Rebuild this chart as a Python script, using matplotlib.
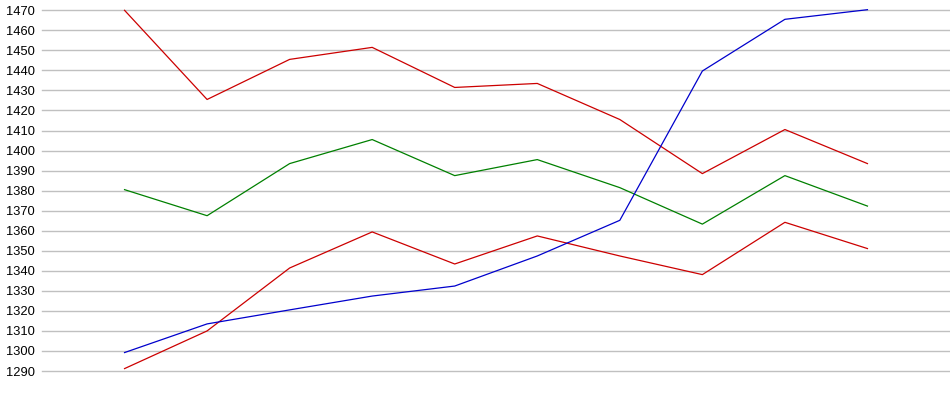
import matplotlib
matplotlib.use('Agg')
import matplotlib.pyplot as plt

# values (10 points per series)
red_top = [1470, 1425.5, 1445.5, 1451.5, 1431.5, 1433.5, 1415.5, 1388.5, 1410.5, 1393.5]
green = [1380.5, 1367.5, 1393.5, 1405.5, 1387.5, 1395.5, 1381.5, 1363.3, 1387.5, 1372.3]
red_bottom = [1291.2, 1310, 1341.4, 1359.4, 1343.4, 1357.4, 1347.4, 1338.1, 1364.2, 1351.1]
blue = [1299.2, 1313.5, 1320.5, 1327.4, 1332.4, 1347.4, 1365.2, 1439.7, 1465.5, 1470.3]
x = list(range(len(blue)))
yticks = list(range(1290, 1471, 10))

plt.rcParams['font.family'] = ['Liberation Sans', 'DejaVu Sans']

fig = plt.figure(figsize=(9.5, 3.95), dpi=100)
ax = fig.add_axes([42 / 950, 24 / 395, 908 / 950, 360.7 / 395])

ax.plot(x, red_top, color='#cc0000', lw=0.9, clip_on=False)
ax.plot(x, green, color='#008000', lw=0.9, clip_on=False)
ax.plot(x, red_bottom, color='#cc0000', lw=0.9, clip_on=False)
ax.plot(x, blue, color='#0000cc', lw=0.9, clip_on=False)

ax.set_xlim(-1, 10)
ax.set_ylim(1290, 1470)
ax.set_yticks(yticks)
ax.set_xticks([])
ax.yaxis.grid(True, color='#c0c0c0', lw=1)
for gl in ax.get_ygridlines():
    gl.set_clip_on(False)
ax.set_axisbelow(True)
for s in ax.spines.values():
    s.set_visible(False)
ax.tick_params(axis='y', length=0, pad=5, labelsize=9.3, labelcolor='black')

fig.savefig('out.png', dpi=100)
